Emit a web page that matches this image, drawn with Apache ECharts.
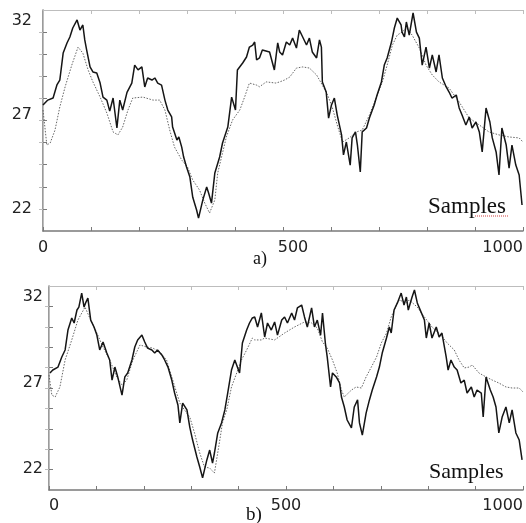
<!DOCTYPE html>
<html>
<head>
<meta charset="utf-8">
<script src="https://cdn.jsdelivr.net/npm/echarts@6/dist/echarts.min.js"></script>
<style>
  html, body { margin: 0; padding: 0; background: #fff; }
  #chart { width: 526px; height: 523px; }
</style>
</head>
<body>
<div id="chart"></div>
<script>
// a) solid = measured, dotted = model output  [sample, value]
const aMeasured = [
  [0, 27.53], [10, 27.79], [21, 27.9], [29, 28.6], [35, 28.86], [42, 30.3], [50, 30.84], [56, 31.16],
  [62, 31.64], [71, 32.07], [77, 31.53], [83, 31.8], [87, 31.0], [91, 30.46], [98, 29.56], [104, 29.29],
  [112, 29.24], [119, 28.7], [125, 27.95], [133, 27.79], [139, 27.2], [146, 27.9], [154, 26.3], [160, 27.79],
  [166, 27.26], [175, 28.2], [185, 28.7], [191, 29.66], [198, 29.4], [206, 29.56], [212, 28.49], [218, 28.97],
  [227, 28.86], [233, 28.97], [239, 28.7], [247, 28.59], [254, 27.79], [260, 27.26], [268, 26.89], [270, 26.35],
  [279, 25.66], [283, 25.82], [289, 25.28], [293, 24.75], [299, 24.22], [306, 23.68], [312, 22.6], [320, 21.92],
  [324, 21.49], [333, 22.46], [341, 23.15], [345, 22.83], [351, 22.29], [358, 23.9], [368, 24.75], [374, 25.5],
  [385, 26.35], [393, 27.95], [401, 27.26], [405, 29.4], [416, 29.77], [424, 30.09], [430, 30.62], [437, 30.73],
  [441, 30.89], [445, 29.93], [451, 30.04], [457, 30.46], [472, 30.36], [482, 29.4], [489, 30.84], [493, 30.36],
  [499, 30.2], [507, 30.89], [514, 30.73], [520, 31.1], [528, 30.57], [534, 31.53], [541, 31.16], [549, 30.73],
  [555, 31.1], [561, 30.36], [570, 30.04], [576, 31.0], [580, 30.62], [582, 28.76], [590, 28.22], [595, 26.83],
  [601, 27.53], [607, 27.9], [613, 26.99], [622, 25.93], [626, 24.86], [632, 25.55], [640, 24.32], [644, 25.77],
  [651, 26.09], [655, 25.39], [661, 23.95], [665, 26.09], [674, 26.3], [680, 26.83], [690, 27.53], [696, 28.06],
  [705, 28.76], [711, 29.66], [717, 30.04], [726, 30.89], [732, 31.64], [738, 32.17], [746, 31.8], [748, 31.42],
  [753, 31.16], [757, 31.96], [763, 31.26], [771, 32.44], [778, 31.42], [784, 31.1], [790, 29.66], [798, 30.62],
  [805, 29.5], [811, 30.2], [819, 29.29], [825, 30.2], [832, 28.97], [840, 28.49], [846, 28.22], [852, 27.9],
  [861, 28.06], [867, 27.37], [873, 26.99], [881, 26.46], [888, 26.89], [894, 26.3], [902, 26.62], [909, 26.09],
  [915, 25.02], [923, 27.37], [931, 26.62], [936, 25.77], [944, 25.02], [950, 23.79], [956, 26.3], [965, 25.39],
  [971, 24.16], [977, 25.39], [985, 24.32], [992, 23.79], [998, 22.19]
];
const aModel = [
  [0, 27.26], [8, 25.39], [15, 25.5], [25, 26.19], [35, 27.42], [46, 28.49], [60, 29.66], [73, 30.62],
  [83, 30.3], [94, 29.4], [104, 28.76], [119, 27.95], [133, 27.1], [146, 26.09], [156, 25.93], [166, 26.35],
  [177, 27.26], [187, 27.9], [208, 27.95], [229, 27.79], [243, 27.79], [254, 27.26], [264, 26.19], [274, 25.28],
  [289, 24.59], [301, 24.22], [312, 23.52], [326, 22.99], [337, 22.29], [347, 21.76], [358, 22.46], [364, 23.9],
  [372, 24.75], [382, 25.82], [395, 26.73], [410, 27.26], [420, 27.95], [430, 28.7], [445, 28.59], [451, 28.5],
  [465, 28.76], [485, 28.7], [493, 28.76], [503, 28.86], [514, 29.02], [528, 29.5], [541, 29.56], [555, 29.5],
  [570, 29.13], [582, 28.59], [593, 28.06], [603, 27.37], [613, 26.46], [624, 25.55], [638, 25.77], [653, 26.09],
  [665, 26.19], [680, 26.99], [694, 27.9], [707, 28.76], [717, 29.66], [728, 30.73], [738, 31.26], [748, 31.42],
  [757, 31.64], [769, 31.26], [784, 30.57], [798, 29.66], [811, 29.13], [825, 28.76], [846, 28.43], [867, 27.69],
  [888, 26.83], [909, 26.46], [929, 26.09], [950, 25.93], [971, 25.82], [992, 25.77], [1000, 25.55]
];

// b)
const bMeasured = [
  [2, 27.57], [8, 27.74], [19, 27.91], [27, 28.49], [34, 28.9], [40, 30.05], [48, 30.75], [53, 30.46],
  [59, 31.21], [63, 31.38], [69, 32.19], [74, 31.38], [78, 31.67], [82, 31.9], [88, 30.63], [95, 30.23],
  [101, 29.76], [107, 28.9], [114, 29.36], [122, 28.72], [128, 28.32], [133, 27.16], [139, 27.91], [145, 27.34],
  [154, 26.29], [160, 27.34], [166, 27.57], [175, 28.32], [181, 29.07], [187, 29.48], [196, 29.76], [202, 29.36],
  [208, 29.01], [217, 28.9], [223, 28.72], [229, 28.9], [238, 28.61], [244, 28.32], [251, 27.91], [259, 27.16],
  [265, 26.41], [272, 25.72], [276, 24.68], [282, 25.83], [291, 25.43], [297, 24.44], [303, 23.69], [312, 22.71],
  [318, 22.13], [324, 21.5], [333, 22.54], [339, 23.11], [345, 22.36], [349, 22.94], [356, 24.1], [364, 24.68],
  [371, 25.43], [377, 26.41], [385, 27.74], [392, 28.32], [402, 27.57], [408, 29.3], [417, 30.05], [423, 30.46],
  [429, 30.75], [434, 30.81], [440, 30.23], [448, 31.04], [455, 29.65], [461, 30.46], [469, 30.05], [476, 30.52],
  [482, 29.76], [491, 30.63], [497, 30.81], [503, 30.46], [512, 31.04], [518, 30.63], [524, 31.33], [533, 31.5],
  [539, 30.81], [545, 30.23], [554, 31.33], [560, 30.23], [566, 30.63], [573, 29.76], [577, 31.04], [583, 29.3],
  [587, 28.49], [594, 26.76], [598, 27.57], [606, 27.34], [613, 26.99], [617, 26.18], [623, 25.6], [629, 24.85],
  [638, 24.39], [644, 25.6], [651, 26.01], [655, 24.68], [661, 23.98], [669, 25.25], [676, 26.01], [682, 26.58],
  [691, 27.34], [697, 27.91], [703, 28.72], [712, 29.59], [718, 30.23], [722, 29.88], [728, 31.21], [735, 31.62],
  [743, 32.19], [749, 31.5], [754, 31.96], [758, 31.21], [766, 31.96], [771, 32.37], [777, 31.62], [785, 31.09],
  [792, 30.63], [796, 29.59], [802, 30.46], [808, 29.59], [817, 30.23], [823, 29.65], [829, 29.88], [838, 28.49],
  [842, 27.74], [848, 28.32], [855, 27.91], [861, 27.74], [869, 26.99], [876, 27.16], [882, 26.41], [891, 26.76],
  [897, 26.18], [903, 26.58], [912, 26.41], [916, 25.02], [922, 27.34], [931, 26.58], [937, 26.18], [943, 25.6],
  [949, 24.1], [956, 25.02], [964, 25.6], [971, 24.68], [977, 25.43], [985, 24.1], [992, 23.69], [998, 22.54]
];
const bModel = [
  [0, 27.45], [6, 26.29], [13, 26.18], [23, 26.76], [34, 28.32], [48, 29.48], [61, 30.63], [76, 31.38],
  [86, 30.75], [101, 29.88], [114, 29.07], [128, 28.32], [143, 27.34], [154, 26.87], [164, 27.16], [177, 28.32],
  [192, 29.19], [206, 29.07], [219, 29.01], [234, 28.78], [248, 28.32], [261, 27.16], [276, 25.83], [286, 25.43],
  [297, 25.02], [307, 24.1], [318, 22.94], [328, 22.13], [339, 22.07], [349, 21.78], [358, 23.29], [366, 24.68],
  [375, 25.43], [385, 26.76], [396, 27.57], [406, 28.32], [417, 28.9], [429, 29.59], [434, 29.48], [448, 29.48],
  [455, 29.59], [476, 29.48], [497, 29.88], [518, 30.23], [539, 30.52], [554, 30.46], [566, 30.17], [577, 29.36],
  [587, 29.01], [598, 28.32], [608, 27.57], [617, 26.58], [623, 26.18], [638, 26.58], [648, 26.76], [659, 26.7],
  [669, 27.34], [680, 27.91], [691, 28.49], [701, 29.3], [712, 29.88], [722, 30.81], [733, 31.5], [739, 31.79],
  [743, 31.9], [754, 31.62], [760, 31.79], [777, 31.38], [792, 30.81], [808, 30.23], [827, 29.76], [840, 29.3],
  [855, 28.9], [865, 28.32], [876, 27.86], [886, 27.91], [893, 28.03], [907, 27.57], [922, 27.34], [935, 27.16],
  [949, 26.99], [964, 26.76], [977, 26.7], [992, 26.7], [1000, 26.47]
];

const xLabels = [0, 500, 1000];
const yTicks = [21.98, 23.16, 24.34, 25.52, 26.7, 27.88, 29.06, 30.24, 31.42];
const yLabels = [22, 27, 32];
const yMin = 20.8, yMax = 32.6;

const dark = '#7a7a7a', light = '#bdbdbd';
const tickFont = { fontFamily: 'DejaVu Sans', fontSize: 16, color: '#222' };

function xAxes(g, labelMargin) {
  return [
    {
      type: 'value', gridIndex: g, position: 'bottom', min: 0, max: 1000, interval: 100,
      splitLine: { show: false },
      axisLine: { lineStyle: { color: dark, width: 1.5 } },
      axisTick: { inside: true, length: 4, lineStyle: { color: dark } },
      axisLabel: Object.assign({
        customValues: xLabels, margin: labelMargin, alignMaxLabel: 'right',
        alignMinLabel: g === 1 ? 'left' : 'center',
        formatter: v => (g === 0 && v === 500) ? '{s|500}' : String(v),
        rich: { s: { padding: [0, 0, 0, 20], fontFamily: 'DejaVu Sans', fontSize: 16, color: '#222' } }
      }, tickFont)
    },
    {
      type: 'value', gridIndex: g, position: 'top', min: 0, max: 1000, interval: 100,
      splitLine: { show: false },
      axisLine: { lineStyle: { color: light } },
      axisTick: { inside: true, length: 4, lineStyle: { color: light } },
      axisLabel: { show: false }
    }
  ];
}

function yAxes(g, labelMargin) {
  return [
    {
      type: 'value', gridIndex: g, position: 'left', min: yMin, max: yMax,
      splitLine: { show: false },
      axisLine: { show: true, lineStyle: { color: dark, width: 1.5 } },
      axisTick: { show: true, inside: true, length: 4, customValues: yTicks, lineStyle: { color: dark } },
      axisLabel: Object.assign({ customValues: yLabels, margin: labelMargin }, tickFont)
    },
    {
      type: 'value', gridIndex: g, position: 'right', min: yMin, max: yMax,
      splitLine: { show: false },
      axisLine: { show: true, lineStyle: { color: light } },
      axisTick: { show: true, inside: true, length: 4, customValues: yTicks, lineStyle: { color: light } },
      axisLabel: { show: false }
    }
  ];
}

function solid(data, xi, yi) {
  return {
    type: 'line', xAxisIndex: xi, yAxisIndex: yi, data: data, showSymbol: false,
    lineStyle: { color: '#151515', width: 1.5 }
  };
}
function dotted(data, xi, yi) {
  return {
    type: 'line', xAxisIndex: xi, yAxisIndex: yi, data: data, showSymbol: false,
    lineStyle: { color: '#666', width: 1, type: [1.5, 1.5] }
  };
}

const serif = 'Liberation Serif';
const textStyle = (size) => ({ fontFamily: serif, fontSize: size, fontWeight: 'normal', color: '#111' });

let option = {
  animation: false,
  backgroundColor: '#fff',
  title: [
    { text: 'Samples', left: 428, top: 195, padding: 0, textStyle: textStyle(23) },
    { text: 'Samples', left: 429, top: 461, padding: 0, textStyle: textStyle(22) },
    { text: 'a)', left: 253, top: 250, padding: 0, textStyle: textStyle(18) },
    { text: 'b)', left: 246, top: 506, padding: 0, textStyle: textStyle(19) }
  ],
  // red spell-check squiggle under "ples" in the top panel
  graphic: [
    {
      type: 'line', shape: { x1: 475, y1: 216, x2: 508, y2: 216 },
      style: { stroke: '#d04040', lineWidth: 1, lineDash: [1, 1] }
    }
  ],
  grid: [
    { left: 43, top: 10, width: 481, height: 221 },
    { left: 49, top: 286, width: 475, height: 204 }
  ],
  xAxis: [].concat(xAxes(0, 9), xAxes(1, 8)),
  yAxis: [].concat(yAxes(0, 11), yAxes(1, 6)),
  series: [
    dotted(aModel, 0, 0),
    solid(aMeasured, 0, 0),
    dotted(bModel, 2, 2),
    solid(bMeasured, 2, 2)
  ]
};

let myChart = echarts.init(document.getElementById('chart'));
myChart.setOption(option);
</script>
</body>
</html>
